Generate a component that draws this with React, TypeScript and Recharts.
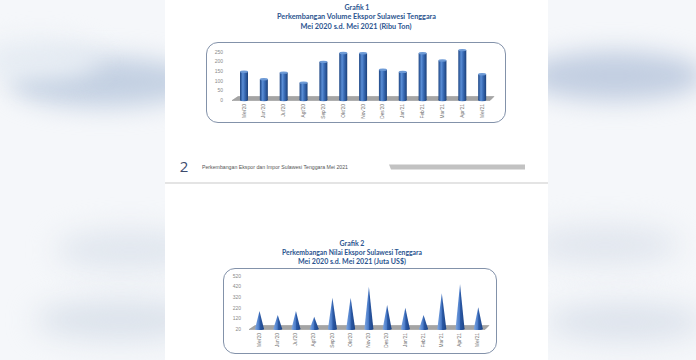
import { BarChart, Bar, XAxis, YAxis, ReferenceArea } from 'recharts'

const months = ["Mei'20", "Jun'20", "Jul'20", "Agt'20", "Sep'20", "Okt'20", "Nov'20", "Des'20", "Jan'21", "Feb'21", "Mar'21", "Apr'21", "Mei'21"]
const volumeRibuTon = [147, 108, 142, 90, 198, 244, 243, 157, 146, 243, 205, 259, 134]
const nilaiJutaUsd = [190, 152, 190, 136, 315, 315, 419, 246, 221, 152, 357, 441, 225]
const volumeTicks = [0, 50, 100, 150, 200, 250]
const nilaiTicks = [20, 120, 220, 320, 420, 520]

const volumeData = months.map((month, i) => ({ month, value: volumeRibuTon[i] }))
const nilaiData = months.map((month, i) => ({ month, value: nilaiJutaUsd[i] }))

const titleFont = 'Lato, "Noto Sans", sans-serif'
const smallFont = '"Liberation Sans", Arial, sans-serif'
const titleColor = '#2c5590'

function YTick({ x, y, payload, dx }: any) {
  return (
    <text x={x + dx} y={y} dy={1.8} textAnchor="end" fontSize={5} fill="#8a8a8a" fontFamily={smallFont}>
      {payload.value}
    </text>
  )
}

function XTick({ x, y, payload, dy }: any) {
  return (
    <text transform={`translate(${x + 1.6},${y + dy}) rotate(-90)`} textAnchor="end" fontSize={4.8} fill="#6f6f6f" fontFamily={smallFont}>
      {payload.value}
    </text>
  )
}

function Cylinder({ x, y, width, height }: any) {
  if (!height || height <= 0) return null
  const rx = width / 2
  return (
    <g>
      <rect x={x} y={y} width={width} height={height} fill="url(#cylGrad)" />
      <ellipse cx={x + rx} cy={y + height} rx={rx} ry={1.2} fill="url(#cylGrad)" />
      <ellipse cx={x + rx} cy={y} rx={rx} ry={1.2} fill="#6d9ad6" />
    </g>
  )
}

function Cone({ x, y, width, height }: any) {
  if (!height || height <= 0) return null
  return (
    <g>
      <polygon points={`${x},${y + height} ${x + width / 2},${y} ${x + width},${y + height}`} fill="url(#coneGrad)" />
      <ellipse cx={x + width / 2} cy={y + height} rx={width / 2} ry={1} fill="url(#coneGrad)" />
    </g>
  )
}

function floorShape(left: number, right: number, topLeft: number, topRight: number, depth: number) {
  return ({ x, y, width, height }: any) => {
    const b = y + height
    return (
      <polygon
        points={`${x + left},${b + 0.5} ${x + width + right},${b + 0.5} ${x + width + topRight},${b - depth} ${x + topLeft},${b - depth}`}
        fill="#a4a4a4"
        stroke="#8c8c8c"
        strokeWidth={0.5}
      />
    )
  }
}

function Blob({ cx, cy, w, h, color, blur }: any) {
  return (
    <div
      style={{
        position: 'absolute',
        left: cx - w / 2,
        top: cy - h / 2,
        width: w,
        height: h,
        borderRadius: '50%',
        background: color,
        filter: `blur(${blur}px)`,
      }}
    />
  )
}

const chartBox = {
  position: 'absolute' as const,
  border: '1.5px solid #8392aa',
  borderRadius: 12,
  boxSizing: 'border-box' as const,
}

export default function App() {
  return (
    <div style={{ position: 'absolute', left: 0, top: 0, width: 696, height: 360, overflow: 'hidden', background: '#f5f7fa' }}>
      {/* blurred backdrop on both sides */}
      <Blob cx={105} cy={82} w={190} h={50} color="#c3d0e2" blur={12} />
      <Blob cx={40} cy={60} w={120} h={40} color="#e6ecf3" blur={12} />
      <Blob cx={130} cy={250} w={150} h={40} color="#e0e6ee" blur={14} />
      <Blob cx={120} cy={320} w={170} h={40} color="#dbe2eb" blur={14} />
      <Blob cx={615} cy={76} w={180} h={50} color="#c2cee1" blur={12} />
      <Blob cx={605} cy={245} w={150} h={40} color="#e1e6ee" blur={14} />
      <Blob cx={625} cy={322} w={160} h={40} color="#dde3ec" blur={14} />

      {/* document page */}
      <div style={{ position: 'absolute', left: 165, top: 0, width: 383, height: 360, background: '#ffffff' }} />
      <div style={{ position: 'absolute', left: 165, top: 182, width: 383, height: 2, background: '#e4e4e4' }} />

      <svg width={696} height={360} style={{ position: 'absolute', left: 0, top: 0 }}>
        <g fontFamily={titleFont} fontWeight={700} fill={titleColor} textAnchor="middle" fontSize={7}>
          <text x={357} y={9.5}>Grafik 1</text>
          <text x={356.5} y={19} textLength={159} lengthAdjust="spacingAndGlyphs">Perkembangan Volume Ekspor Sulawesi Tenggara</text>
          <text x={356} y={28.5} textLength={111} lengthAdjust="spacingAndGlyphs">Mei 2020 s.d. Mei 2021 (Ribu Ton)</text>
          <text x={352} y={245.5}>Grafik 2</text>
          <text x={352} y={254.5} textLength={140} lengthAdjust="spacingAndGlyphs">Perkembangan Nilai Ekspor Sulawesi Tenggara</text>
          <text x={352} y={263.5} textLength={108} lengthAdjust="spacingAndGlyphs">Mei 2020 s.d. Mei 2021 (Juta US$)</text>
        </g>
        <text x={184} y={172} fontSize={15} fill="#3d4b6c" fontFamily={'"Open Sans", sans-serif'} textAnchor="middle">2</text>
        <text x={202} y={169} fontSize={6} fill="#555" fontFamily={smallFont} textLength={146} lengthAdjust="spacingAndGlyphs">
          Perkembangan Ekspor dan Impor Sulawesi Tenggara Mei 2021
        </text>
        <polygon points="389,164.5 525,164.5 525,169.5 391,169.5" fill="#c2c2c2" />
      </svg>

      {/* Grafik 1 */}
      <div style={{ ...chartBox, left: 206, top: 42, width: 300, height: 81 }} />
      <div style={{ position: 'absolute', left: 206, top: 42 }}>
        <BarChart width={300} height={81} data={volumeData} margin={{ top: 6, right: 14, bottom: 0, left: 0 }} barSize={8}>
          <defs>
            <linearGradient id="cylGrad" x1="0" y1="0" x2="1" y2="0">
              <stop offset="0%" stopColor="#1d4583" />
              <stop offset="35%" stopColor="#5a8ed6" />
              <stop offset="60%" stopColor="#3a6cb6" />
              <stop offset="100%" stopColor="#1b407a" />
            </linearGradient>
          </defs>
          <XAxis dataKey="month" axisLine={false} tickLine={false} tickSize={0} tickMargin={0} interval={0} height={23} tick={<XTick dy={4} />} />
          <YAxis domain={[0, 270]} ticks={volumeTicks} interval={0} axisLine={false} tickLine={false} tickSize={0} tickMargin={0} width={28} tick={<YTick dx={-11} />} />
          <ReferenceArea y1={0} y2={10} ifOverflow="visible" shape={floorShape(-2, -2, 4, 2, 3.5)} />
          <Bar dataKey="value" shape={<Cylinder />} isAnimationActive={false} />
        </BarChart>
      </div>

      {/* Grafik 2 */}
      <div style={{ ...chartBox, left: 223, top: 268, width: 274, height: 86 }} />
      <div style={{ position: 'absolute', left: 223, top: 268 }}>
        <BarChart width={274} height={86} data={nilaiData} margin={{ top: 8, right: 10, bottom: 0, left: 0 }} barSize={9}>
          <defs>
            <linearGradient id="coneGrad" x1="0" y1="0" x2="1" y2="0">
              <stop offset="0%" stopColor="#7ea7e2" />
              <stop offset="45%" stopColor="#4a7bc8" />
              <stop offset="55%" stopColor="#2b59a5" />
              <stop offset="100%" stopColor="#1c4386" />
            </linearGradient>
          </defs>
          <XAxis dataKey="month" axisLine={false} tickLine={false} tickSize={0} tickMargin={0} interval={0} height={25} tick={<XTick dy={4} />} />
          <YAxis domain={[20, 520]} ticks={nilaiTicks} interval={0} axisLine={false} tickLine={false} tickSize={0} tickMargin={0} width={27} tick={<YTick dx={-9} />} />
          <ReferenceArea y1={20} y2={60} ifOverflow="visible" shape={floorShape(-1, -2, 5, 2, 3.5)} />
          <Bar dataKey="value" shape={<Cone />} isAnimationActive={false} />
        </BarChart>
      </div>
    </div>
  )
}
